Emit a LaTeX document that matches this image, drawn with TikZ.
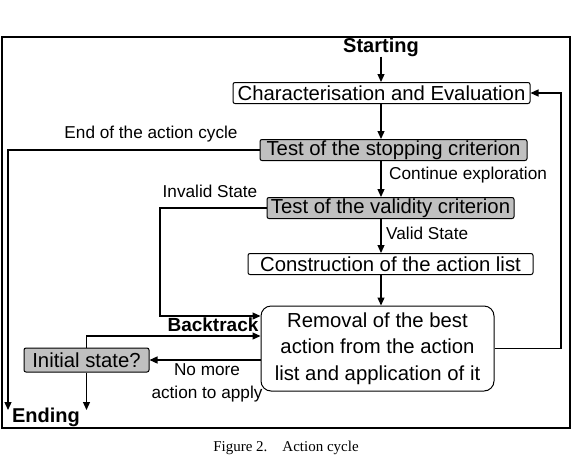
\documentclass[tikz,border=0pt]{standalone}
\usepackage{fontspec}
\setmainfont{Liberation Sans}
\newfontfamily\capfont{Liberation Serif}
\usetikzlibrary{arrows.meta}
\definecolor{boxgray}{RGB}{192,192,192}
\tikzset{
    stepbox/.style={draw, rounded corners=2pt, inner sep=0pt, minimum height=21pt,
        line width=1pt, font=\fontsize{20.3}{23}\selectfont},
    testbox/.style={stepbox, fill=boxgray},
    lbl/.style={inner sep=0pt, font=\fontsize{17.2}{23}\selectfont},
    bold/.style={inner sep=0pt, font=\fontsize{20}{23}\selectfont\bfseries},
    flow/.style={-{Triangle[length=8pt,width=7pt]}, line width=1.2pt}
}

\begin{document}
\begin{tikzpicture}[x=1pt,y=-1pt]
    \useasboundingbox (0,0) rectangle (572,464);
    \draw[line width=2pt] (2,37) rectangle (570,428);

    % boxes
    \node[bold] (start) at (381,47) {Starting};
    \node[stepbox, minimum width=297pt] (char) at (381.5,93) {Characterisation and Evaluation};
    \node[testbox, minimum width=267pt] (stop) at (393.5,150) {Test of the stopping criterion};
    \node[testbox, minimum width=247pt] (valid) at (390.5,208) {Test of the validity criterion};
    \node[stepbox, minimum width=285pt] (build) at (390.5,264) {Construction of the action list};
    \node[stepbox, rounded corners=10pt, minimum width=233pt, minimum height=85pt,
        align=center, font=\fontsize{20.3}{26.5}\selectfont] (remove) at (377.5,348.5)
        {Removal of the best\\action from the action\\list and application of it};
    \node[testbox, minimum width=125pt, minimum height=24pt] (init) at (86.5,360) {Initial state?};
    \node[bold] (ending) at (46,417) {Ending};

    \coordinate (endL) at (8,410);
    \coordinate (invturn) at (160,316);
    \coordinate (loopR) at (561,0);

    % main line
    \draw[flow] (start) -- (start |- char.north);
    \draw[flow] (char.south -| start) -- (stop.north -| start);
    \draw[flow] (stop.south -| start) -- (valid.north -| start);
    \draw[flow] (valid.south -| start) -- (build.north -| start);
    \draw[flow] (build.south -| start) -- (remove.north -| start);

    % side lines
    \draw[flow] (stop.west) -| (endL);
    \draw[flow] (valid.west) -| (invturn) -- ([yshift=32.5pt]remove.west);
    \draw[flow] (init.north) |- ([yshift=12.5pt]remove.west);
    \draw[flow] ([yshift=-11.5pt]remove.west) -- (init.east);
    \draw[flow] (init.south) -- (init.south |- endL);
    \draw[flow] (remove.east) -- (remove.east -| loopR) |- (char.east);

    % labels
    \node[lbl] (endlbl) at (151,134) {End of the action cycle};
    \node[lbl, anchor=west] (contlbl) at (389,175) {Continue exploration};
    \node[lbl] (invlbl) at (210,191) {Invalid State};
    \node[lbl, anchor=west] (validlbl) at (386,233) {Valid State};
    \node[bold, font=\fontsize{19}{22}\selectfont\bfseries] (backlbl) at (213,325) {Backtrack};
    \node[lbl, align=center] (nomorelbl) at (207,383) {No more\\action to apply};

    \node[font=\capfont\fontsize{15}{18}\selectfont] (caption) at (286,448) {Figure 2.\quad Action cycle};
\end{tikzpicture}
\end{document}
